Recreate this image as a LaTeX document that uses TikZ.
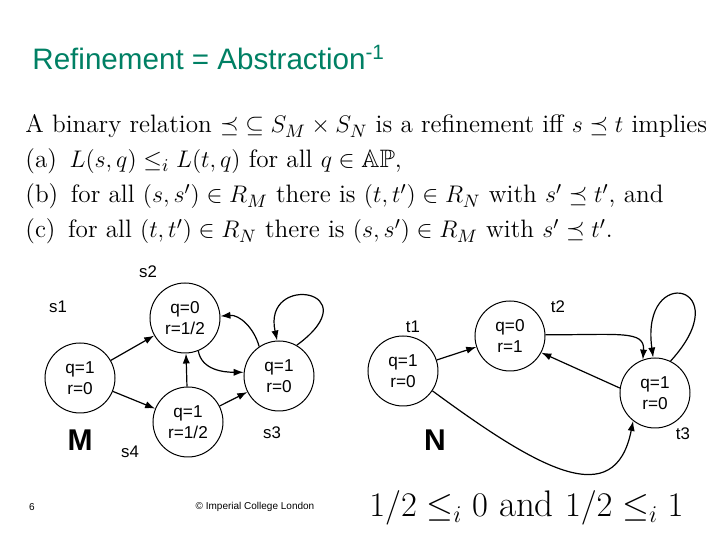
\documentclass[tikz,border=0pt]{standalone}
\usepackage{amsmath,amssymb}
\usepackage{fontspec}
\setsansfont{Liberation Sans}
\usetikzlibrary{positioning, arrows.meta}
\definecolor{titlegreen}{RGB}{0,128,100}
\tikzset{
	statenode/.style={draw, circle, line width=0.5pt, minimum size=35pt, inner sep=0pt,
	  align=center, font=\sffamily\fontsize{8.6}{10.2}\selectfont}
}
\tikzset{
	edge/.style={line width=0.6pt, -{Latex[length=5pt,width=3.6pt]}}
}
\tikzset{
	namelabel/.style={font=\sffamily\fontsize{8.4}{10}\selectfont},
	biglabel/.style={font=\sffamily\bfseries\fontsize{15}{18}\selectfont},
	mathline/.style={anchor=base west, inner sep=0pt, font=\fontsize{12.6}{15}\selectfont}
}
\newcommand{\twoline}[2]{q=#1\\r=#2}

\begin{document}
\begin{tikzpicture}[x=0.5pt, y=-0.5pt]
      \useasboundingbox (0,0) rectangle (720,540);
      \node[anchor=base west, inner sep=0pt, text=titlegreen,
        font=\sffamily\fontsize{14.8}{17}\selectfont] (title) at (32,70)
        {Refinement = Abstraction\textsuperscript{-1}};
      % definition
      \node[mathline] (line1) at (25,133)
        {A binary relation $\preceq\;\subseteq S_M \times S_N$ is a refinement iff $s \preceq t$ implies};
      \node[mathline] (line2) at (25,168)
        {(a)\enspace $L(s,q) \leq_i L(t,q)$ for all $q \in \mathbb{AP}$,};
      \node[mathline] (line3) at (25,203)
        {(b)\enspace for all $(s,s') \in R_M$ there is $(t,t') \in R_N$ with $s' \preceq t'$, and};
      \node[mathline] (line4) at (25,238)
        {(c)\enspace for all $(t,t') \in R_N$ there is $(s,s') \in R_M$ with $s' \preceq t'$.};
      % M
      \node[statenode] (s1) at (80,378) {\twoline{1}{0}};
      \node[statenode] (s2) at (185,318) {\twoline{0}{1/2}};
      \node[statenode] (s3) at (279,376) {\twoline{1}{0}};
      \node[statenode] (s4) at (188,422) {\twoline{1}{1/2}};
      \foreach \n/\x/\y in {s1/58/307, s2/148/272, s3/272/433, s4/130/452}
        \node[namelabel] (lbl\n) at (\x,\y) {\n};
      \node[biglabel] (lblM) at (80,440) {M};
      \draw[edge] (s1) -- (s2);
      \draw[edge] (s1) -- (s4);
      \draw[edge] (s4) -- (s2);
      \draw[edge] (s4) -- (s3);
      \draw[edge] (s2.-68) to[out=-80, in=180] (s3.174);
      \draw[edge] (s3.124) to[out=105, in=5] (s2.3);
      \draw[edge] (s3.60) .. controls (372,290) and (262,272) .. (s3.93);
      % N
      \node[statenode] (t1) at (403,371) {\twoline{1}{0}};
      \node[statenode] (t2) at (510,336) {\twoline{0}{1}};
      \node[statenode] (t3) at (655,393) {\twoline{1}{0}};
      \foreach \n/\x/\y in {t1/413/327, t2/558/307, t3/683/434}
        \node[namelabel] (lbl\n) at (\x,\y) {\n};
      \node[biglabel] (lblN) at (435,440) {N};
      \draw[edge] (t1) -- (t2);
      \draw[edge] (t1.-34) .. controls (540,470) and (615,512) .. (t3.232);
      \draw[edge] (t2.2) .. controls (620,335) and (645,330) .. (t3.110);
      \draw[edge] (t3.172) -- (t2.-28);
      \draw[edge] (t3.64) .. controls (740,285) and (640,262) .. (t3.93);
      % footer
      \node[font=\sffamily\fontsize{5}{6}\selectfont] (page) at (32,507) {6};
      \node[font=\sffamily\fontsize{5}{6}\selectfont] (copy) at (255,507) {\textcopyright\ Imperial College London};
      \node[anchor=base west, inner sep=0pt, font=\fontsize{18.5}{22}\selectfont] (ineq) at (369,517)
        {$1/2 \leq_i 0$ and $1/2 \leq_i 1$};
\end{tikzpicture}
\end{document}
